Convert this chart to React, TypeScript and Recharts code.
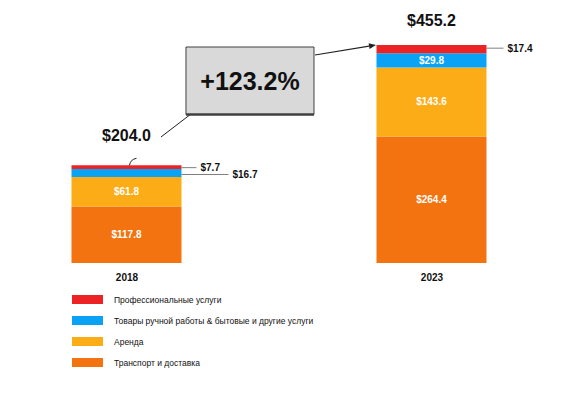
import { BarChart, Bar, XAxis, YAxis, LabelList, ReferenceArea, ReferenceLine } from 'recharts'

const years = ['2018', '2023']
const transport = [117.8, 264.4]
const rent = [61.8, 143.6]
const crafts = [16.7, 29.8]
const professional = [7.7, 17.4]
const totals = [204.0, 455.2]
const growth = '+123.2%'

const seriesNames = {
  transport: 'Транспорт и доставка',
  rent: 'Аренда',
  crafts: 'Товары ручной работы & бытовые и другие услуги',
  professional: 'Профессиональные услуги',
}

const colors = {
  transport: '#F2730F',
  rent: '#FCAC17',
  crafts: '#0AA2F4',
  professional: '#EC2224',
}

const data = years.map((year, i) => ({
  x: i,
  year,
  transport: transport[i],
  rent: rent[i],
  crafts: crafts[i],
  professional: professional[i],
  total: totals[i],
}))

const FONT = '"Liberation Sans", Arial, sans-serif'
const fmt = (v: number) => `$${Number(v).toFixed(1)}`

// white labels inside the segment
const inside = (skip: number[]) => (p: any) => {
  const { x, y, width, height, value, index } = p
  if (skip.includes(index)) return null
  return (
    <text x={x + width / 2} y={y + height / 2} dy="0.35em" textAnchor="middle"
      fill="#fff" fontSize={10} fontWeight={700} fontFamily={FONT}>
      {fmt(value)}
    </text>
  )
}

// labels outside the bar with a leader line
const outside = (lens: (number | null)[], shift: number[] = [0, 0]) => (p: any) => {
  const { x, y, width, height, value, index } = p
  const len = lens[index]
  if (len == null) return null
  const ly = y + height / 2 + shift[index]
  const x0 = x + width
  return (
    <g>
      <line x1={x0} y1={ly} x2={x0 + len} y2={ly} stroke="#7f7f7f" strokeWidth={1} />
      <text x={x0 + len + 4} y={ly} dy="0.35em" fill="#111" fontSize={10}
        fontWeight={700} fontFamily={FONT}>
        {fmt(value)}
      </text>
    </g>
  )
}

const totalLabel = (p: any) => {
  const { x, y, width, index } = p
  const off = [30, 25][index]
  const cx = x + width / 2
  return (
    <g>
      <text x={cx} y={y - off} dy="0.35em" textAnchor="middle" fill="#111"
        fontSize={16} fontWeight={700} fontFamily={FONT}>
        {fmt(totals[index])}
      </text>
      {index === 0 && (
        <path d={`M${cx + 3},${y} Q${cx + 4},${y - 6} ${cx + 10},${y - 7}`}
          fill="none" stroke="#222" strokeWidth={1} />
      )}
    </g>
  )
}

const Arrow = (p: any) => {
  const { x1, y1, x2, y2 } = p
  const a = Math.atan2(y2 - y1, x2 - x1)
  const L = 7
  const W = 3
  const bx = x2 - L * Math.cos(a)
  const by = y2 - L * Math.sin(a)
  const nx = -Math.sin(a) * W
  const ny = Math.cos(a) * W
  return (
    <g>
      <line x1={x1} y1={y1} x2={bx} y2={by} stroke="#222" strokeWidth={1.2} />
      <path d={`M${x2},${y2} L${bx + nx},${by + ny} L${bx - nx},${by - ny} Z`} fill="#222" />
    </g>
  )
}

const legendOrder = ['professional', 'crafts', 'rent', 'transport'] as const

export default function App() {
  return (
    <div style={{ position: 'absolute', left: 0, top: 0, width: 562, height: 399, background: '#fff' }}>
      <BarChart width={562} height={399} data={data}
        margin={{ top: 45, right: 20, bottom: 106, left: 20 }}>
        <XAxis type="number" dataKey="x" domain={[-0.3508, 1.3607]} ticks={[0, 1]}
          tickFormatter={(i) => years[i] ?? ''} axisLine={false} tickLine={false}
          tickMargin={5} height={30}
          tick={{ fontSize: 10, fontWeight: 700, fill: '#111', fontFamily: FONT }} />
        <YAxis hide domain={[0, 455.2]} />
        <Bar dataKey="transport" stackId="a" fill={colors.transport} barSize={110} isAnimationActive={false}>
          <LabelList dataKey="transport" content={inside([])} />
        </Bar>
        <Bar dataKey="rent" stackId="a" fill={colors.rent} barSize={110} isAnimationActive={false}>
          <LabelList dataKey="rent" content={inside([])} />
        </Bar>
        <Bar dataKey="crafts" stackId="a" fill={colors.crafts} barSize={110} isAnimationActive={false}>
          <LabelList dataKey="crafts" content={inside([0])} />
          <LabelList dataKey="crafts" content={outside([47, null], [1.5, 0])} />
        </Bar>
        <Bar dataKey="professional" stackId="a" fill={colors.professional} barSize={110} isAnimationActive={false}>
          <LabelList dataKey="professional" content={outside([15, 17], [0.5, -1])} />
          <LabelList dataKey="professional" content={totalLabel} />
        </Bar>
        <ReferenceLine segment={[{ x: 0.1115, y: 263.1 }, { x: 0.2098, y: 311.1 }]}
          stroke="#222" strokeWidth={1} />
        <ReferenceArea x1={0.1934} x2={0.6131} y1={310} y2={451} fill="#D9D9D9" fillOpacity={1}
          stroke="#404040" strokeWidth={1}
          label={{ value: growth, position: 'center', fontSize: 25, fontWeight: 700, fill: '#111', fontFamily: FONT }} />
        <ReferenceLine segment={[{ x: 0.1934, y: 310 }, { x: 0.6131, y: 310 }]}
          stroke="#404040" strokeWidth={2.5} />
        <ReferenceLine segment={[{ x: 0.6164, y: 434.3 }, { x: 0.8164, y: 455.2 }]}
          shape={Arrow} />
      </BarChart>
      <div style={{ position: 'absolute', left: 72, top: 289, fontFamily: FONT, fontSize: 8.5, color: '#111' }}>
        {legendOrder.map((k) => (
          <div key={k} style={{ display: 'flex', alignItems: 'center', height: 21 }}>
            <span style={{ display: 'inline-block', width: 31, height: 9, background: colors[k], marginRight: 11 }} />
            <span>{seriesNames[k]}</span>
          </div>
        ))}
      </div>
    </div>
  )
}
